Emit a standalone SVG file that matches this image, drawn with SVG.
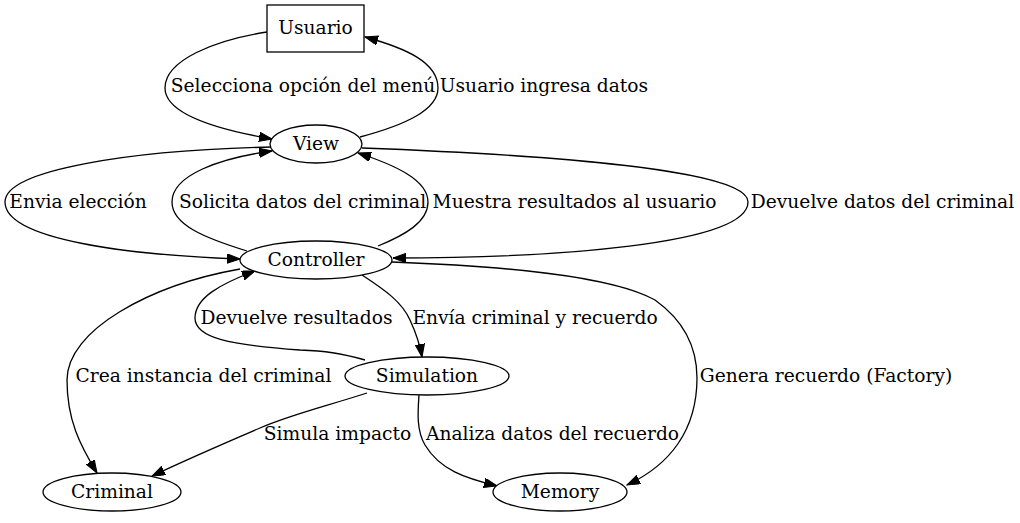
<svg xmlns="http://www.w3.org/2000/svg" width="1020" height="523" viewBox="0 0 1020 523">
<style>
text{font-family:"DejaVu Serif","Liberation Serif",serif;font-size:18.67px;fill:#000;text-anchor:middle}
.n{fill:#fff;stroke:#000;stroke-width:1.3}
.e{fill:none;stroke:#000;stroke-width:1.3}
.a{marker-end:url(#ah)}
</style>
<defs>
<marker id="ah" markerUnits="userSpaceOnUse" markerWidth="14" markerHeight="10" refX="13" refY="4.7" orient="auto">
<path d="M0,0 L13,4.7 L0,9.4 z" fill="#000" stroke="#000" stroke-width="1"/>
</marker>
</defs>
<rect width="1020" height="523" fill="#fff"/>
<g id="connectors">
<path class="e a" d="M267,32 C215,40 165,60 165,88 C165,115 220,130 272,139"/>
<path class="e a" d="M360,137 C405,125 438,110 438,88 C438,62 405,48 365,37"/>
<path class="e a" d="M273,147 C130,150 5,170 5,202 C5,240 130,255 240,259"/>
<path class="e a" d="M247,251 C205,238 172,225 172,202 C172,175 220,158 272,151"/>
<path class="e a" d="M378,246 C405,235 428,222 428,202 C428,180 395,165 358,153"/>
<path class="e a" d="M362,148 C550,155 748,170 748,202 C748,245 550,258 393,258"/>
<path class="e a" d="M240,269 C150,285 67,330 67,380 C67,420 80,445 97,473"/>
<path class="e a" d="M365,360 C340,353 325,351 300,350 C230,345 195,338 195,318 C195,298 220,284 255,271"/>
<path class="e a" d="M362,275 C385,290 402,302 410,320 C416,333 420,345 422,357"/>
<path class="e a" d="M367,393 C320,408 290,415 260,428 C225,443 190,458 152,476"/>
<path class="e a" d="M419,395 C418,410 416,430 425,445 C440,470 465,478 497,486"/>
<path class="e a" d="M392,262 C500,266 610,275 655,300 C690,325 697,355 697,378 C697,430 670,465 627,485"/>
<text x="303" y="92">Selecciona opción del menú</text>
<text x="544" y="92">Usuario ingresa datos</text>
<text x="78" y="208">Envia elección</text>
<text x="302.5" y="208">Solicita datos del criminal</text>
<text x="574.5" y="208">Muestra resultados al usuario</text>
<text x="882.5" y="208">Devuelve datos del criminal</text>
<text x="296.5" y="324">Devuelve resultados</text>
<text x="535" y="324">Envía criminal y recuerdo</text>
<text x="203.5" y="382">Crea instancia del criminal</text>
<text x="826" y="382">Genera recuerdo (Factory)</text>
<text x="337.5" y="440">Simula impacto</text>
<text x="552.5" y="440">Analiza datos del recuerdo</text>
</g>
<g id="Usuario"><rect class="n" x="267" y="5" width="97" height="47"/><text x="315.5" y="34">Usuario</text></g>
<g id="View"><ellipse class="n" cx="316" cy="144" rx="46" ry="19"/><text x="316" y="150">View</text></g>
<g id="Controller"><ellipse class="n" cx="316" cy="260" rx="76" ry="19"/><text x="316" y="266">Controller</text></g>
<g id="Simulation"><ellipse class="n" cx="427" cy="376" rx="82" ry="19"/><text x="427" y="382">Simulation</text></g>
<g id="Criminal"><ellipse class="n" cx="112" cy="492" rx="69" ry="19"/><text x="112" y="498">Criminal</text></g>
<g id="Memory"><ellipse class="n" cx="560" cy="492" rx="67" ry="19"/><text x="560" y="498">Memory</text></g>
</svg>
